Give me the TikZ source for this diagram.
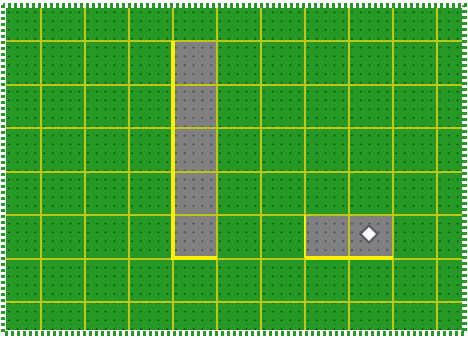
\documentclass[tikz,border=0pt]{standalone}
\usetikzlibrary{patterns.meta,shapes.geometric}
\definecolor{turf}{RGB}{38,152,38}
\definecolor{turfdark}{RGB}{12,85,20}
\definecolor{gridline}{RGB}{190,200,20}
\definecolor{slab}{RGB}{128,128,130}
\definecolor{slabdark}{RGB}{90,90,98}
\definecolor{rim}{RGB}{250,240,0}

\begin{document}
\begin{tikzpicture}[
    x=0.5pt, y=-0.5pt,
    grid/.style={draw=gridline, line width=1pt},
    slabcell/.style={fill=slab},
    rimline/.style={draw=rim, line width=2.2pt},
    speckle/.style={pattern={Dots[distance=4.4pt, radius=0.55pt]}, pattern color=#1}
]
\useasboundingbox (0,0) rectangle (468,338);

% board
\fill[turf] (6,8) rectangle (462,330);
\draw[turf, line width=2.5pt, dash pattern=on 1.5pt off 1.5pt] (3,5) rectangle (465,333);

% paved cells
\fill[slabcell] (173,41) rectangle (217,258);
\fill[slabcell] (305,215) rectangle (393,258);

% texture
\fill[speckle=turfdark] (6,8) rectangle (462,330);
\fill[speckle=slabdark] (173,41) rectangle (217,258);
\fill[speckle=slabdark] (305,215) rectangle (393,258);

% grid
\foreach \gx in {41,85,...,437}
    \draw[grid] (\gx,8) -- (\gx,330);
\foreach \gy in {41,84.5,128,171.5,215,258.5,302}
    \draw[grid] (6,\gy) -- (462,\gy);

% yellow rims
\draw[rimline] (173,41) -- (173,258) -- (217,258);
\draw[draw=rim, line width=1.4pt] (305,215) -- (305,258);
\draw[rimline] (305,258) -- (393,258);

% marker
\node[diamond, draw=slabdark, fill=white, line width=1pt,
      minimum size=9pt, inner sep=0pt] (gem) at (369,234) {};
\end{tikzpicture}
\end{document}
